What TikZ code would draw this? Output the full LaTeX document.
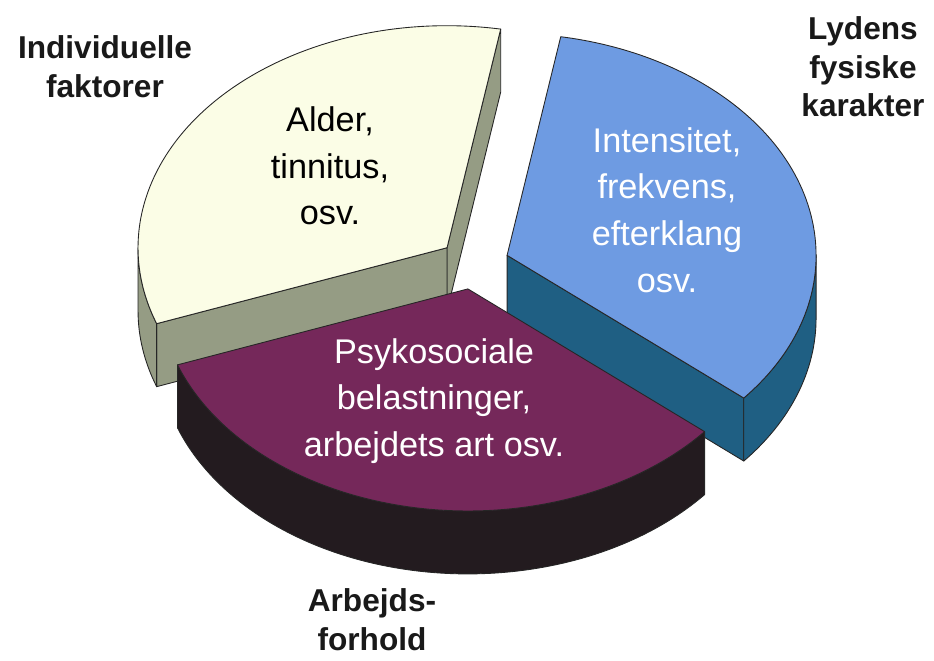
\documentclass[tikz,border=0pt]{standalone}
\usepackage{fontspec}
\setmainfont{Liberation Sans}
\usetikzlibrary{calc, positioning}
\definecolor{indtop}{HTML}{FBFDE6}
\definecolor{indside}{HTML}{959C84}
\definecolor{lydtop}{HTML}{6E9BE2}
\definecolor{lydside}{HTML}{1F5F83}
\definecolor{arbtop}{HTML}{75285A}
\definecolor{arbside}{HTML}{231B1F}
\tikzset{
    slice/.style={draw=black!85, line width=0.5pt, line join=round},
    piearc/.style={x radius=309, y radius=222},
    sidelabel/.style={font=\bfseries\fontsize{18}{22}\selectfont, align=center, text=black!90},
    slicelabel/.style={font=\fontsize{19.5}{26.5}\selectfont, align=center}
}

\begin{document}
\begin{tikzpicture}[x=0.02cm, y=0.02cm]
    \useasboundingbox (0,0) rectangle (934,660);
    % centre of the pie and the apex of each exploded slice
    \coordinate (C) at (474,396);
    \coordinate (Ya) at ($(C)+(140:35.2 and 25.3)$);
    \coordinate (Ba) at ($(C)+(20:35.2 and 25.3)$);
    \coordinate (Pa) at ($(C)+(260:35.2 and 25.3)$);

    % individuelle faktorer
    \draw[slice, fill=indside] (Ya) -- ++(80:309 and 222) -- ++(0,-63) -- ($(Ya)+(0,-63)$) -- cycle;
    \draw[slice, fill=indside] (Ya) -- ++(200:309 and 222) -- ++(0,-63) -- ($(Ya)+(0,-63)$) -- cycle;
    \draw[slice, fill=indside] ($(Ya)+(180:309 and 222)$) arc[piearc, start angle=180, end angle=200]
        -- ++(0,-63) arc[piearc, start angle=200, end angle=180] -- cycle;
    \draw[slice, fill=indtop] (Ya) -- ++(80:309 and 222) arc[piearc, start angle=80, end angle=200] -- cycle;

    % lydens fysiske karakter
    \draw[slice, fill=lydside] (Ba) -- ++(-40:309 and 222) -- ++(0,-63) -- ($(Ba)+(0,-63)$) -- cycle;
    \draw[slice, fill=lydside] ($(Ba)+(-40:309 and 222)$) arc[piearc, start angle=-40, end angle=0]
        -- ++(0,-63) arc[piearc, start angle=0, end angle=-40] -- cycle;
    \draw[slice, fill=lydtop] (Ba) -- ++(-40:309 and 222) arc[piearc, start angle=-40, end angle=80] -- cycle;

    % arbejdsforhold
    \draw[slice, fill=arbside] ($(Pa)+(200:309 and 222)$) arc[piearc, start angle=200, end angle=320]
        -- ++(0,-63) arc[piearc, start angle=320, end angle=200] -- cycle;
    \draw[slice, fill=arbtop] (Pa) -- ++(200:309 and 222) arc[piearc, start angle=200, end angle=320] -- cycle;

    \node[slicelabel, text=black] (alder) at (330,494) {Alder,\\tinnitus,\\osv.};
    \node[slicelabel, text=white] (intens) at (667,450) {Intensitet,\\frekvens,\\efterklang\\osv.};
    \node[slicelabel, text=white] (psyko) at (434,259) {Psykosociale\\belastninger,\\arbejdets art osv.};

    \node[sidelabel] (indiv) at (105,593) {Individuelle\\faktorer};
    \node[sidelabel] (lydens) at (863,593) {Lydens\\fysiske\\karakter};
    \node[sidelabel] (arbejd) at (372,40) {Arbejds-\\forhold};
\end{tikzpicture}
\end{document}
